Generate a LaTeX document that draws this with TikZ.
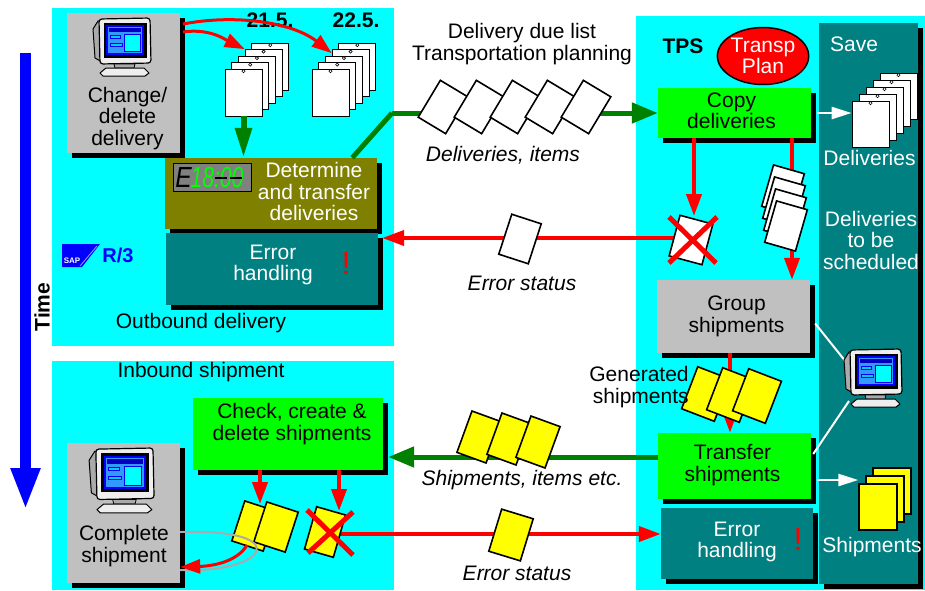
\documentclass[tikz,border=0pt]{standalone}
\usepackage{fontspec}
\setmainfont{Liberation Sans}
\usetikzlibrary{arrows.meta,shadows,calc,shapes.geometric}

\definecolor{panelcyan}{RGB}{0,255,255}
\definecolor{boxteal}{RGB}{0,128,128}
\definecolor{boxolive}{RGB}{128,128,0}
\definecolor{boxgreen}{RGB}{0,255,0}
\definecolor{linegreen}{RGB}{0,128,0}
\definecolor{boxgray}{RGB}{192,192,192}
\definecolor{docyellow}{RGB}{255,255,0}
\definecolor{timeblue}{RGB}{0,0,255}
\definecolor{clockgray}{RGB}{128,128,128}
\definecolor{digitgreen}{RGB}{0,255,0}
\definecolor{monlight}{RGB}{238,238,238}
\definecolor{monside}{RGB}{170,170,170}
\definecolor{scrblue}{RGB}{0,0,255}
\definecolor{scrmid}{RGB}{51,153,255}
\definecolor{scrbar}{RGB}{0,0,190}
\definecolor{scrcyan}{RGB}{0,255,255}
\definecolor{scrlight}{RGB}{0,204,255}
\definecolor{loopgray}{RGB}{170,170,170}

\newcommand\lblfont{\fontsize{21}{21.5}\selectfont}

\tikzset{
  procbox/.style={rectangle, inner sep=0pt, draw=none,
    general shadow={fill=black, shadow xshift=5pt, shadow yshift=-5pt}},
  lbl/.style={font=\lblfont, align=center, inner sep=0pt},
  wlbl/.style={lbl, text=white},
  ilbl/.style={lbl, font=\lblfont\itshape},
  blbl/.style={lbl, font=\lblfont\bfseries},
  excl/.style={text=red, font=\fontsize{32}{32}\selectfont, inner sep=0pt},
  pagedoc/.style={rectangle, draw=black, fill=white, line width=0.8pt,
    minimum width=37pt, minimum height=47pt, inner sep=0pt},
  tiltdoc/.style={rectangle, draw=black, fill=white, line width=1.6pt,
    minimum width=31pt, minimum height=42pt, inner sep=0pt},
  ydoc/.style={tiltdoc, fill=docyellow, minimum width=32pt, minimum height=43pt},
  redarrow/.style={draw=red, line width=4pt, -{Triangle[width=15pt,length=22pt]}},
  redcurve/.style={draw=red, line width=3pt, -{Triangle[width=14pt,length=20pt]}},
  greenarrow/.style={draw=linegreen, line width=5pt, -{Triangle[width=20pt,length=26pt]}},
  whitearrow/.style={draw=white, line width=2.5pt, -{Triangle[width=12pt,length=20pt]}},
  whiteline/.style={draw=white, line width=2pt},
  redx/.style={draw=red, line width=5pt},
  pics/monitor/.style={code={
    \filldraw[fill=monside, line width=1pt, line join=round]
      (1,11) -- (6,3) -- (12,2) -- (12,45) -- (3,40) -- cycle;
    \filldraw[fill=monlight, line width=1.2pt, rounded corners=3pt]
      (7,1) -- (58,0) -- (59,45) -- (8,46) -- cycle;
    \filldraw[fill=black] (12,5) rectangle (54,39);
    \fill[scrblue] (14,7) rectangle (52,37);
    \fill[scrmid] (16,9) rectangle (50,35);
    \fill[scrbar] (17,10) rectangle (49,14);
    \filldraw[fill=scrlight, draw=scrblue, line width=0.6pt] (18,17) rectangle (28,20);
    \filldraw[fill=scrlight, draw=scrblue, line width=0.6pt] (18,25) rectangle (30,28);
    \filldraw[fill=scrcyan, draw=scrblue, line width=0.6pt] (32,16) rectangle (48,33);
    \filldraw[fill=monside, line width=0.8pt] (22,46) -- (43,46) -- (42,50) -- (23,50) -- cycle;
    \filldraw[fill=monlight, line width=1pt, line join=round]
      (8,55) -- (14,50) -- (52,50) -- (57,55) -- (53,58) -- (11,58) -- cycle;
  }}
}

\begin{document}
\begin{tikzpicture}[x=1pt,y=-1pt]
\useasboundingbox (0,0) rectangle (925,590);
\fill[white] (0,0) rectangle (925,590);

% background areas
\fill[panelcyan] (52,8) rectangle (394,346);
\fill[panelcyan] (52,361) rectangle (394,590);
\fill[panelcyan] (636,16) rectangle (925,590);
\node[procbox, fill=boxteal, minimum width=99pt, minimum height=561pt] (save) at (868.5,303.5) {};

% time axis
\coordinate (ttop) at (25.5,53);
\coordinate (ttip) at (25.5,510);
\draw[draw=timeblue, line width=11pt, -{Triangle[width=27pt,length=42pt]}] (ttop) -- (ttip);
\node[blbl, rotate=90] (timelbl) at (42,307) {Time};

% process boxes
\node[procbox, fill=boxgray, minimum width=113pt, minimum height=140pt] (change) at (123.5,83) {};
\node[procbox, fill=boxolive, minimum width=212pt, minimum height=71pt] (det) at (271,193.5) {};
\node[procbox, fill=boxteal, minimum width=212pt, minimum height=72pt] (err1) at (272,269) {};
\node[procbox, fill=boxgreen, minimum width=153pt, minimum height=50pt] (copy) at (734.5,113) {};
\node[procbox, fill=boxgray, minimum width=153pt, minimum height=73pt] (group) at (733.5,316.5) {};
\node[procbox, fill=boxgreen, minimum width=153pt, minimum height=66pt] (transfer) at (734.5,466) {};
\node[procbox, fill=boxteal, minimum width=152pt, minimum height=71pt] (err2) at (737,543.5) {};
\node[procbox, fill=boxgreen, minimum width=190pt, minimum height=72pt] (check) at (288,434) {};
\node[procbox, fill=boxgray, minimum width=113pt, minimum height=140pt] (complete) at (123.5,513) {};

% transport plan
\node[ellipse, draw=black, line width=1.5pt, fill=red, minimum width=85pt, minimum height=57pt,
      inner sep=0pt, text=white, font=\lblfont, align=center] (plan) at (763,56) {Transp\\Plan};

% date stacks of deliveries
\foreach \k in {4,3,2,1,0} {
  \node[pagedoc] (sa\k) at (243.5+6.7*\k, 92.5-6.5*\k) {};
  \filldraw[fill=white, line width=0.6pt] ($(sa\k.north)+(0,2.5)$) circle (1.6pt);
  \node[pagedoc] (sb\k) at (330.5+6.7*\k, 92.5-6.5*\k) {};
  \filldraw[fill=white, line width=0.6pt] ($(sb\k.north)+(0,2.5)$) circle (1.6pt);
}
\node[blbl] (d21) at (270,20) {21.5.};
\node[blbl] (d22) at (356,20) {22.5.};

% saved deliveries
\foreach \k in {4,3,2,1,0} {
  \node[pagedoc, minimum height=46pt] (sc\k) at (870.5+7*\k, 124-7*\k) {};
  \filldraw[fill=white, line width=0.6pt] ($(sc\k.north)+(0,2.5)$) circle (1.6pt);
}
% saved shipments
\foreach \k in {2,1,0} {
  \node[pagedoc, fill=docyellow, line width=1.4pt, minimum width=38pt, minimum height=46pt]
    (ys\k) at (878+7*\k, 507-8*\k) {};
}

% connectors
\coordinate (rq1) at (183,32);
\coordinate (rq2) at (183,24);
\draw[redcurve] (rq1) .. controls (210,28) and (226,40) .. (sa3.north west);
\draw[redcurve] (rq2) .. controls (235,14) and (292,22) .. ($(sb3.north west)+(0,4)$);
\draw[draw=linegreen, line width=6pt, -{Triangle[width=16pt,length=30pt]}] (sa0.south) -- (sa0.south |- det.north);

\coordinate (gbend) at (392,113);
\draw[draw=linegreen, line width=5pt] ([xshift=-25pt]det.north east) -- (gbend);
\draw[greenarrow] (gbend) -- (copy.west);

\coordinate (lx) at (694,0);
\coordinate (rx) at (792,0);
\coordinate (gx) at (730,0);
\coordinate (ry1) at (0,238);
\coordinate (ry2) at (0,534);
\coordinate (gy) at (0,457);
\coordinate (wy) at (0,480);

\draw[redarrow] (lx |- copy.south) -- (694,216);
\draw[redarrow] (rx |- copy.south) -- (rx |- group.north);
\draw[redarrow] (gx |- group.south) -- (gx |- transfer.north);
\draw[redarrow] (691,238) -- ($(err1.east |- ry1)+(4,0)$);
\draw[greenarrow] (transfer.west |- gy) -- ($(check.east |- gy)+(5,0)$);
\draw[redarrow] (325,534) -- (err2.west |- ry2);
\draw[redarrow] (check.south -| 260,0) -- (260,504);
\draw[redarrow] (check.south -| 339,0) -- (339,511);

\draw[whitearrow] ($(copy.east)+(6,0)$) -- (sc0.west |- copy.east);
\draw[whitearrow] ($(transfer.east |- wy)+(6,0)$) -- (ys0.west |- wy);
\coordinate (m2a) at (846,362);
\coordinate (m2b) at (849,401);
\draw[whiteline] ($(group.east)+(5,7)$) -- (m2a);
\draw[whiteline] ($(transfer.east)+(2,-12)$) -- (m2b);

% documents on the interfaces
\node[tiltdoc, rotate=-31, minimum width=32pt, minimum height=43pt] (dv1) at (443,107) {};
\node[tiltdoc, rotate=-31, minimum width=32pt, minimum height=43pt] (dv2) at (479,107) {};
\node[tiltdoc, rotate=-31, minimum width=32pt, minimum height=43pt] (dv3) at (515,107) {};
\node[tiltdoc, rotate=-31, minimum width=32pt, minimum height=43pt] (dv4) at (550,107) {};
\node[tiltdoc, rotate=-31, minimum width=32pt, minimum height=43pt] (dv5) at (586,107) {};

\node[tiltdoc, rotate=-18] (errdoc1) at (520,239) {};
\node[tiltdoc, rotate=-15, minimum width=34pt] (xdoc1) at (691,240) {};
\draw[redx] (669,217) -- (716,263);
\draw[redx] (717,217) -- (669,263);

\foreach \k in {3,2,1,0} {
  \node[tiltdoc, rotate=-16, minimum width=32pt, minimum height=43pt] (cp\k) at (786-\k, 226-12*\k) {};
}

\node[ydoc, rotate=-21, minimum width=35pt, minimum height=45pt] (gs1) at (706,394) {};
\node[ydoc, rotate=-21, minimum width=35pt, minimum height=45pt] (gs2) at (731,395) {};
\node[ydoc, rotate=-21, minimum width=35pt, minimum height=45pt] (gs3) at (757,396) {};

\node[ydoc, rotate=-20, minimum width=31pt, minimum height=44pt] (sh1) at (479,437) {};
\node[ydoc, rotate=-20, minimum width=31pt, minimum height=44pt] (sh2) at (509,439) {};
\node[ydoc, rotate=-20, minimum width=31pt, minimum height=44pt] (sh3) at (538,442) {};

\node[ydoc, rotate=-17, minimum width=33pt, minimum height=44pt] (errdoc2) at (511,535) {};

\node[ydoc, rotate=-18, minimum width=33pt, minimum height=42pt] (ypa) at (254,526) {};
\node[ydoc, rotate=-18, minimum width=33pt, minimum height=42pt] (ypb) at (276,527) {};
\node[ydoc, rotate=-16, minimum width=30pt, minimum height=44pt] (xdoc2) at (325,532) {};
\draw[redx] (307,510) -- (353,555);
\draw[redx] (353,512) -- (308,553);

% completion loop back to the dialog
\draw[draw=loopgray, line width=2pt] ([yshift=-19pt]complete.east)
  .. controls (235,530) and (262,540) .. (256,552)
  .. controls (250,564) and (215,572) .. ([yshift=-57pt]complete.east);
\coordinate (rl) at (247,545);
\draw[redcurve] (rl) .. controls (238,561) and (214,566) .. ([yshift=-54pt]complete.east);

% monitors
\pic (mon1) at (92,18) {monitor};
\pic (mon2) at (843,349) {monitor};
\pic[scale=1.12] (mon3) at (88,448) {monitor};

% clock display
\node[rectangle, draw=black, line width=1.5pt, fill=clockgray, minimum width=78pt, minimum height=28pt]
  (clock) at (212.5,177.5) {};
\node[font=\fontsize{29}{29}\selectfont\itshape, inner sep=0pt] (clke) at (183.5,178) {\scalebox{0.85}[1]{E}};
\node[font=\fontsize{29}{29}\selectfont\itshape, text=digitgreen, inner sep=0pt] (clkd) at (217,178) {\scalebox{0.73}[1]{18:00}};
\draw[line width=2.5pt] (215,178) -- (227,178);
\draw[line width=2.5pt] (230,178) -- (242,178);

% SAP R/3 mark
\fill[timeblue] (62,244) -- (100,244) -- (82,267) -- (62,267) -- cycle;
\draw[draw=white!60!timeblue, line width=0.8pt] (97,246) -- (80,266);
\node[text=white, font=\fontsize{8}{8}\selectfont\bfseries, inner sep=0pt] (sap) at (72,261) {SAP};
\node[text=timeblue, font=\fontsize{20}{20}\selectfont\bfseries, inner sep=0pt] (r3) at (118,255) {R/3};

% labels
\node[lbl] (changetxt) at (127.5,118.5) {Change/\\delete\\delivery};
\node[wlbl] (dettxt) at (314,191.5) {Determine\\and transfer\\deliveries};
\node[wlbl] (err1txt) at (273,265) {Error\\handling};
\node[excl] (excl1) at (346,263) {!};
\node[lbl] (outtxt) at (201,323) {Outbound delivery};
\node[lbl] (duetxt) at (522,44) {Delivery due list\\Transportation planning};
\node[ilbl] (delitems) at (503,155) {Deliveries, items};
\node[ilbl] (errst1) at (522,283) {Error status};
\node[blbl] (tps) at (683,46) {TPS};
\node[lbl] (copytxt) at (731.5,111) {Copy\\deliveries};
\node[lbl] (grouptxt) at (736.5,316.5) {Group\\shipments};
\node[lbl, align=right] (gentxt) at (639,387) {Generated\\shipments};
\node[lbl] (transtxt) at (732.5,465) {Transfer\\shipments};
\node[wlbl] (err2txt) at (737,542) {Error\\handling};
\node[excl] (excl2) at (798,539) {!};
\node[wlbl] (savetxt) at (854,44) {Save};
\node[wlbl] (delvtxt) at (869.5,158) {Deliveries};
\node[wlbl] (schedtxt) at (871,240) {Deliveries\\to be\\scheduled};
\node[wlbl] (shiptxt) at (872,547) {Shipments};
\node[lbl] (intxt) at (201,372) {Inbound shipment};
\node[lbl] (checktxt) at (292,424) {Check, create \&\\delete shipments};
\node[ilbl] (shitems) at (522,480) {Shipments, items etc.};
\node[ilbl] (errst2) at (517,573) {Error status};
\node[lbl] (comptxt) at (124,546) {Complete\\shipment};
\end{tikzpicture}
\end{document}
